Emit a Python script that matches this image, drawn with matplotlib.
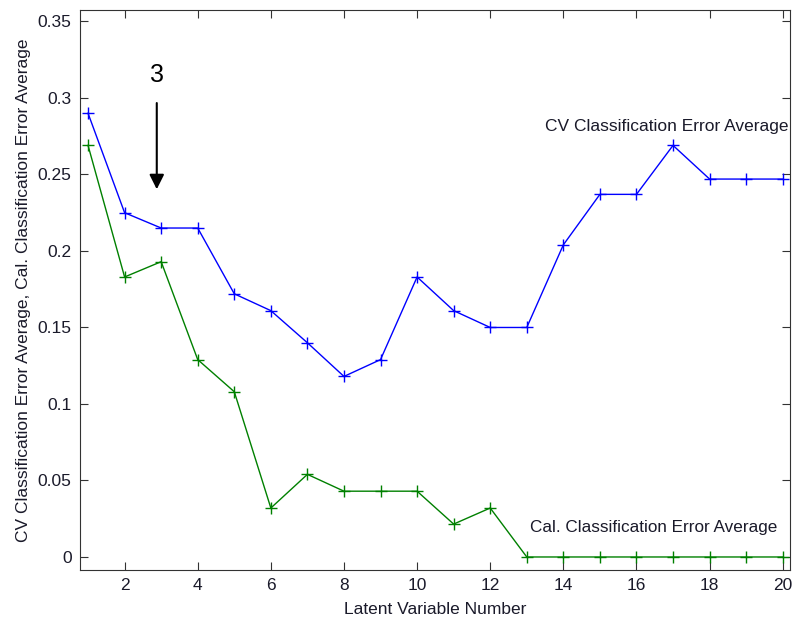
import matplotlib.pyplot as plt

plt.rcParams['font.family'] = ['Liberation Sans', 'DejaVu Sans']

lv = list(range(1, 21))
cv_err = [0.290, 0.225, 0.215, 0.215, 0.172, 0.161, 0.140, 0.118, 0.129, 0.183,
          0.161, 0.150, 0.150, 0.204, 0.237, 0.237, 0.269, 0.247, 0.247, 0.247]
cal_err = [0.269, 0.183, 0.193, 0.129, 0.108, 0.032, 0.054, 0.043, 0.043, 0.043,
           0.0215, 0.032, 0, 0, 0, 0, 0, 0, 0, 0]
xticks = list(range(2, 21, 2))
yticks = [0, 0.05, 0.1, 0.15, 0.2, 0.25, 0.3, 0.35]

fig = plt.figure(figsize=(7.92, 6.17), dpi=100)
ax = fig.add_axes([0.101, 0.0762, 0.8965, 0.9076])

ax.plot(lv, cv_err, '-+', color='#0000ff', lw=1, ms=9, mew=1)
ax.plot(lv, cal_err, '-+', color='#008000', lw=1, ms=9, mew=1)

ax.set_xlim(0.78, 20.2)
ax.set_ylim(-0.0085, 0.3575)
ax.set_xticks(xticks)
ax.set_yticks(yticks)
ax.set_yticklabels(['0', '0.05', '0.1', '0.15', '0.2', '0.25', '0.3', '0.35'])
ax.tick_params(direction='in', top=True, right=True, length=6, labelsize=12.5,
               colors='#333333', labelcolor='#1a1a2a')
ax.tick_params(axis='y', pad=6)
ax.tick_params(axis='x', pad=6)
for s in ax.spines.values():
    s.set_color('#333333')

ax.set_xlabel('Latent Variable Number', fontsize=12.5, color='#1a1a2a', labelpad=6)
ax.set_ylabel('CV Classification Error Average, Cal. Classification Error Average',
              fontsize=12.5, color='#1a1a2a', labelpad=5)

ax.text(20.15, 0.2815, 'CV Classification Error Average', fontsize=12.5,
        ha='right', va='center', color='#1a1a2a')
ax.text(19.85, 0.0195, 'Cal. Classification Error Average', fontsize=12.3,
        ha='right', va='center', color='#1a1a2a')

ax.text(2.88, 0.315, '3', fontsize=18, ha='center', va='center', color='black')
ax.annotate('', xy=(2.88, 0.2385), xytext=(2.88, 0.2985),
            arrowprops=dict(arrowstyle='-|>', color='black', lw=1.5,
                            mutation_scale=22))

fig.savefig('out.png', dpi=100)
